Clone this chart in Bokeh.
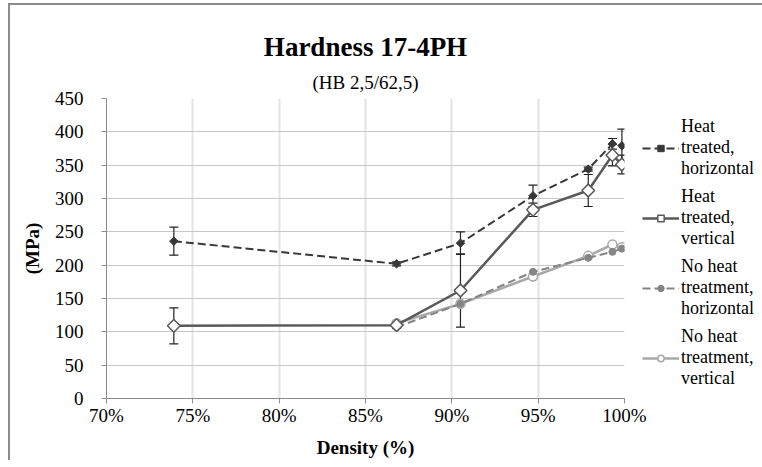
from bokeh.plotting import figure
from bokeh.models import (ColumnDataSource, Whisker, TeeHead, Legend, LegendItem,
                          NumeralTickFormatter, FixedTicker, Range1d, Title)
from bokeh.embed import file_html
from bokeh.resources import INLINE
import math

# ---- data ----
density_ht = [0.739, 0.868, 0.905, 0.947, 0.979, 0.993, 0.9985]
ht_horizontal = [236, 202, 233, 304, 344, 382, 379]
ht_horizontal_err = [21, 3, 17, 16, 3, 8, 25]
ht_vertical = [109, 110, 162, 283, 312, 365, 351]
ht_vertical_err = [27, 5, 55, 10, 24, 16, 14]

density_nht = [0.868, 0.905, 0.947, 0.979, 0.993, 0.9985]
nht_horizontal = [107, 142, 190, 211, 220, 225]
nht_vertical = [113, 142, 183, 214, 231, 227]

x_ticks = [0.70, 0.75, 0.80, 0.85, 0.90, 0.95, 1.00]
y_ticks = [0, 50, 100, 150, 200, 250, 300, 350, 400, 450]

labels = ["Heat\ntreated,\nhorizontal", "Heat\ntreated,\nvertical",
          "No heat\ntreatment,\nhorizontal", "No heat\ntreatment,\nvertical"]

FONT = "Liberation Serif"

p = figure(frame_width=518, frame_height=300, output_backend="svg", toolbar_location=None,
           x_range=Range1d(0.70, 1.00), y_range=Range1d(0, 450),
           min_border_left=96, min_border_top=93, min_border_bottom=62,
           min_border_right=0, title=None,
           styles={"margin-top": "3px", "margin-left": "8px",
                   "border-top": "2px solid #8c8c8c",
                   "border-left": "2px solid #8c8c8c"})

sub = Title(text="(HB 2,5/62,5)", text_font=FONT, text_font_size="19px",
            text_font_style="normal", align="center", text_color="#000000",
            standoff=12)
main = Title(text="Hardness 17-4PH", text_font=FONT, text_font_size="27px",
             text_font_style="bold", align="center", text_color="#000000",
             standoff=3)
p.add_layout(sub, "above")
p.add_layout(main, "above")

p.outline_line_color = None
p.background_fill_color = "white"

# axes
p.xaxis.ticker = FixedTicker(ticks=x_ticks)
p.yaxis.ticker = FixedTicker(ticks=y_ticks)
p.xaxis.formatter = NumeralTickFormatter(format="0%")
for ax in (p.xaxis[0], p.yaxis[0]):
    ax.axis_line_color = "#8c8c8c"
    ax.major_tick_line_color = "#8c8c8c"
    ax.minor_tick_line_color = None
    ax.major_tick_in = 0
    ax.major_tick_out = 5
    ax.major_label_text_font = FONT
    ax.major_label_text_font_size = "19px"
    ax.major_label_text_color = "#000000"
    ax.axis_label_text_font = FONT
    ax.axis_label_text_font_style = "bold"
    ax.axis_label_text_font_size = "19px"
    ax.axis_label_text_color = "#000000"
p.xaxis.axis_label = "Density (%)"
p.yaxis.axis_label = "(MPa)"
p.xaxis.major_label_standoff = 1
p.xaxis.axis_label_standoff = 8
p.yaxis.major_label_standoff = 18
p.yaxis.axis_label_standoff = 9

p.xgrid.ticker = FixedTicker(ticks=x_ticks)
p.ygrid.ticker = FixedTicker(ticks=y_ticks)
p.xgrid.grid_line_color = "#e3e3e3"
p.xgrid.grid_line_width = 2
p.ygrid.grid_line_color = "#c8c8c8"
p.ygrid.grid_line_width = 1

# sources
src_ht = ColumnDataSource(dict(
    x=density_ht, h=ht_horizontal, v=ht_vertical,
    h_lo=[a - b for a, b in zip(ht_horizontal, ht_horizontal_err)],
    h_hi=[a + b for a, b in zip(ht_horizontal, ht_horizontal_err)],
    v_lo=[a - b for a, b in zip(ht_vertical, ht_vertical_err)],
    v_hi=[a + b for a, b in zip(ht_vertical, ht_vertical_err)],
))
src_nht = ColumnDataSource(dict(x=density_nht, h=nht_horizontal, v=nht_vertical))

c1, c2, c3, c4 = "#383838", "#595959", "#858585", "#a8a8a8"
rot = math.pi / 4

# No heat treatment, vertical
l4 = p.line("x", "v", source=src_nht, line_color=c4, line_width=2.5)
m4 = p.scatter("x", "v", source=src_nht, marker="circle", size=9,
               fill_color="white", line_color=c4, line_width=1.5)
# No heat treatment, horizontal
l3 = p.line("x", "h", source=src_nht, line_color=c3, line_width=2, line_dash="8 4")
m3 = p.scatter("x", "h", source=src_nht, marker="circle", size=7,
               fill_color=c3, line_color=c3)
# Heat treated, vertical
l2 = p.line("x", "v", source=src_ht, line_color=c2, line_width=2.5)
m2 = p.scatter("x", "v", source=src_ht, marker="square", size=9, angle=rot,
               fill_color="white", line_color=c2, line_width=1.5)
# Heat treated, horizontal
l1 = p.line("x", "h", source=src_ht, line_color=c1, line_width=2, line_dash="8 4")
m1 = p.scatter("x", "h", source=src_ht, marker="square", size=6, angle=rot,
               fill_color=c1, line_color=c1)

for lo, hi in (("h_lo", "h_hi"), ("v_lo", "v_hi")):
    w = Whisker(source=src_ht, base="x", lower=lo, upper=hi,
                line_color="#222222", line_width=1.2,
                upper_head=TeeHead(size=9, line_color="#222222", line_width=1.2),
                lower_head=TeeHead(size=9, line_color="#222222", line_width=1.2))
    p.add_layout(w)

legend = Legend(items=[
    LegendItem(label=labels[0], renderers=[l1, m1]),
    LegendItem(label=labels[1], renderers=[l2, m2]),
    LegendItem(label=labels[2], renderers=[l3, m3]),
    LegendItem(label=labels[3], renderers=[l4, m4]),
], location="top_left")
legend.border_line_color = None
legend.background_fill_alpha = 0
legend.label_text_font = FONT
legend.label_text_font_size = "18px"
legend.label_text_color = "#000000"
legend.label_text_line_height = 1.1
legend.glyph_width = 37
legend.glyph_height = 16
legend.spacing = 7
legend.padding = 3
legend.margin = 18
legend.label_standoff = 2
p.add_layout(legend, "right")

open("out.html", "w").write(file_html(p, INLINE))
